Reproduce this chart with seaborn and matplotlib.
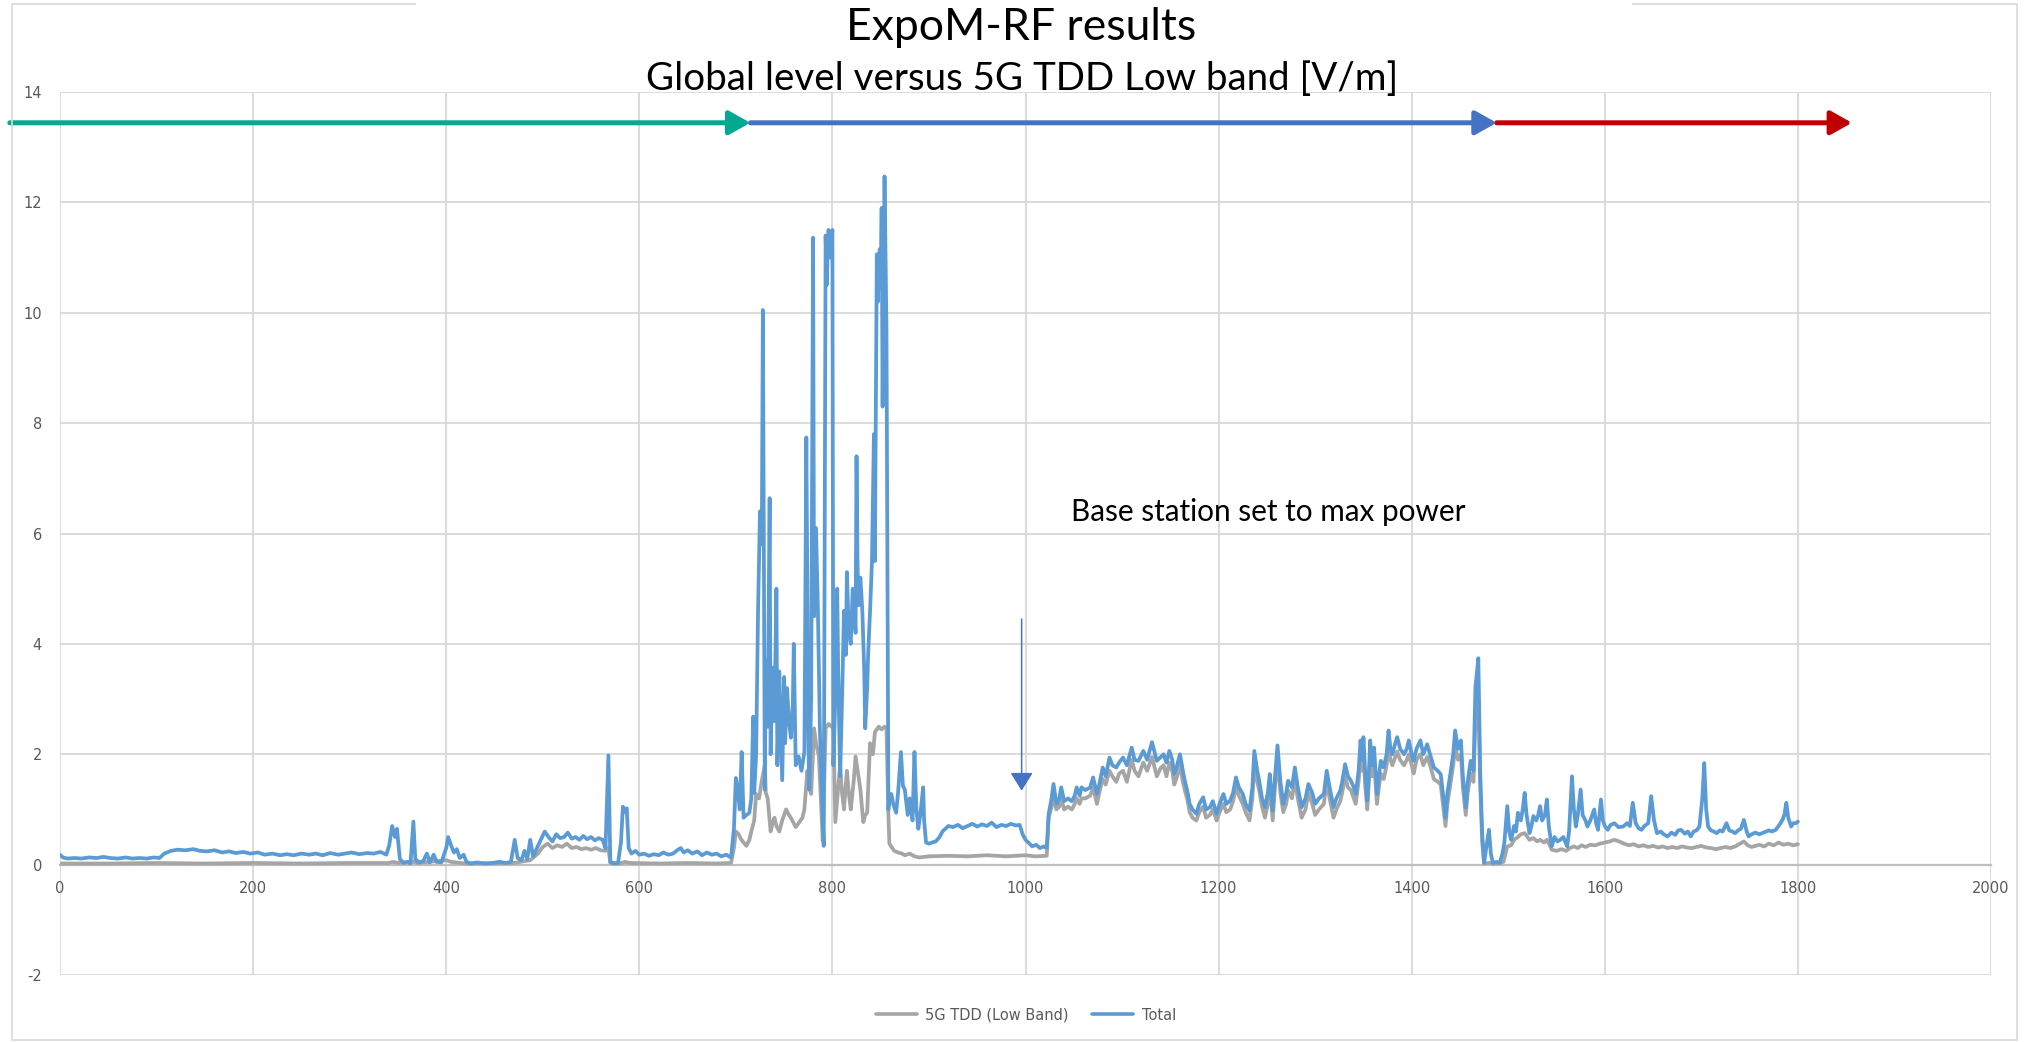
import matplotlib
matplotlib.use("Agg")
import matplotlib.pyplot as plt
from matplotlib.lines import Line2D
from matplotlib.patches import Rectangle
import numpy as np
import pandas as pd
import seaborn as sns

# ---------------------------------------------------------------- data
# 5G TDD (Low Band) field level [V/m] against sample index
tdd_points = [
    (0, 0.02), (50, 0.02), (100, 0.03), (150, 0.02), (200, 0.03), (250, 0.02),
    (300, 0.03), (340, 0.03), (345, 0.05), (350, 0.03), (366, 0.05), (370, 0.03),
    (400, 0.08), (405, 0.05), (420, 0.02), (470, 0.03), (487, 0.08), (495, 0.2),
    (500, 0.32), (505, 0.38), (510, 0.3), (515, 0.35), (520, 0.32), (525, 0.38),
    (530, 0.3), (535, 0.32), (540, 0.28), (545, 0.3), (550, 0.27), (555, 0.3),
    (560, 0.26), (565, 0.25), (568, 0.3), (570, 0.03), (580, 0.02), (585, 0.05),
    (590, 0.03), (620, 0.02), (650, 0.03), (680, 0.02), (695, 0.03),
    (698, 0.3), (700, 0.6), (703, 0.55), (705, 0.47), (708, 0.4), (711, 0.34),
    (714, 0.45), (716, 0.6), (719, 0.8), (721, 1.28), (724, 1.2), (727, 1.53),
    (730, 1.8), (731, 1.3), (733, 1.2), (736, 0.6), (738, 0.75), (740, 0.85),
    (742, 0.7), (745, 0.6), (748, 0.8), (752, 1.0), (755, 0.9), (757, 0.85),
    (760, 0.75), (762, 0.68), (765, 0.75), (769, 0.85), (771, 1.0), (774, 1.7),
    (776, 1.4), (778, 1.28), (781, 2.47), (783, 2.2), (786, 1.96), (788, 1.2),
    (790, 0.43), (793, 2.47), (796, 2.55), (799, 2.5), (801, 2.55), (803, 0.77),
    (806, 1.4), (808, 1.8), (810, 1.3), (812, 1.0), (815, 1.7), (817, 1.3),
    (819, 1.0), (822, 1.5), (824, 1.96), (827, 1.6), (829, 1.36), (832, 0.77),
    (834, 0.9), (836, 0.94), (839, 2.2), (842, 2.0), (844, 2.4), (848, 2.5),
    (851, 2.45), (854, 2.5), (856, 2.47), (858, 0.9), (859, 0.38), (862, 0.3),
    (864, 0.25), (868, 0.22), (872, 0.2), (875, 0.17), (880, 0.2), (885, 0.15),
    (890, 0.13), (895, 0.14), (900, 0.15), (920, 0.16), (940, 0.15), (960, 0.17),
    (980, 0.15), (1000, 0.17), (1010, 0.15), (1022, 0.16),
    (1024, 0.85), (1027, 1.05), (1029, 1.2), (1032, 1.0), (1035, 1.05), (1037, 1.2),
    (1040, 1.0), (1044, 1.05), (1048, 1.0), (1051, 1.1), (1053, 1.2), (1056, 1.1),
    (1058, 1.2), (1062, 1.2), (1067, 1.25), (1070, 1.4), (1074, 1.1), (1077, 1.35),
    (1080, 1.55), (1083, 1.45), (1087, 1.7), (1090, 1.6), (1094, 1.5), (1097, 1.65),
    (1101, 1.7), (1105, 1.5), (1110, 1.9), (1113, 1.7), (1117, 1.6), (1122, 1.85),
    (1126, 1.7), (1131, 1.95), (1136, 1.6), (1140, 1.75), (1143, 1.8), (1146, 1.6),
    (1149, 1.85), (1152, 1.7), (1154, 1.45), (1157, 1.6), (1160, 1.8), (1163, 1.5),
    (1165, 1.35), (1168, 1.15), (1170, 0.95), (1173, 0.85), (1177, 0.8), (1180, 0.95),
    (1184, 1.05), (1187, 0.85), (1191, 0.9), (1194, 1.0), (1198, 0.8), (1201, 0.95),
    (1205, 1.1), (1208, 0.95), (1212, 1.0), (1215, 1.15), (1218, 1.4), (1221, 1.25),
    (1225, 1.1), (1228, 0.95), (1232, 0.8), (1235, 1.2), (1237, 1.85), (1240, 1.5),
    (1242, 1.35), (1245, 1.05), (1248, 0.85), (1251, 1.1), (1253, 1.45), (1256, 0.8),
    (1258, 1.3), (1261, 1.95), (1264, 1.3), (1267, 0.95), (1270, 1.1), (1272, 1.35),
    (1276, 1.2), (1279, 1.55), (1282, 1.2), (1286, 0.85), (1290, 1.0), (1293, 1.3),
    (1297, 1.1), (1300, 0.9), (1304, 1.0), (1309, 1.1), (1312, 1.5), (1315, 1.2),
    (1319, 0.85), (1322, 1.0), (1326, 1.15), (1328, 1.3), (1331, 1.6), (1334, 1.4),
    (1337, 1.35), (1340, 1.2), (1342, 1.1), (1345, 1.5), (1347, 2.0), (1349, 1.7),
    (1350, 2.05), (1352, 1.4), (1354, 1.0), (1356, 1.6), (1357, 2.0), (1359, 1.6),
    (1361, 1.9), (1364, 1.1), (1366, 1.4), (1368, 1.65), (1371, 1.55), (1374, 1.8),
    (1376, 2.15), (1378, 1.9), (1380, 1.8), (1383, 1.95), (1385, 2.05), (1388, 1.9),
    (1392, 1.8), (1395, 1.9), (1397, 2.0), (1400, 1.8), (1402, 1.65), (1405, 1.9),
    (1409, 2.0), (1412, 1.8), (1416, 1.95), (1419, 1.8), (1423, 1.55), (1427, 1.5),
    (1430, 1.45), (1433, 1.0), (1435, 0.7), (1437, 1.1), (1440, 1.45), (1443, 1.8),
    (1445, 2.15), (1448, 1.9), (1451, 2.0), (1453, 1.4), (1456, 0.9), (1458, 1.3),
    (1461, 1.65), (1464, 1.5), (1466, 2.6), (1469, 3.0), (1471, 1.4), (1473, 0.4),
    (1475, 0.02), (1480, 0.03), (1485, 0.02), (1490, 0.02), (1495, 0.05),
    (1499, 0.33), (1503, 0.35), (1506, 0.45), (1510, 0.5), (1513, 0.55), (1517, 0.57),
    (1520, 0.5), (1522, 0.45), (1526, 0.48), (1530, 0.42), (1533, 0.45), (1537, 0.4),
    (1540, 0.45), (1543, 0.35), (1545, 0.27), (1550, 0.25), (1555, 0.28), (1560, 0.25),
    (1564, 0.3), (1568, 0.33), (1572, 0.3), (1576, 0.35), (1580, 0.32), (1585, 0.36),
    (1590, 0.35), (1595, 0.38), (1600, 0.4), (1605, 0.42), (1610, 0.45), (1615, 0.42),
    (1620, 0.38), (1625, 0.35), (1630, 0.37), (1635, 0.33), (1640, 0.35), (1645, 0.32),
    (1650, 0.34), (1655, 0.31), (1660, 0.33), (1665, 0.3), (1670, 0.32), (1675, 0.3),
    (1680, 0.33), (1685, 0.31), (1690, 0.3), (1695, 0.32), (1700, 0.34), (1705, 0.31),
    (1710, 0.3), (1715, 0.28), (1720, 0.3), (1725, 0.32), (1730, 0.3), (1735, 0.33),
    (1740, 0.38), (1744, 0.42), (1748, 0.35), (1752, 0.32), (1756, 0.34), (1760, 0.36),
    (1765, 0.33), (1770, 0.38), (1775, 0.35), (1780, 0.4), (1785, 0.36), (1790, 0.38),
    (1795, 0.35), (1800, 0.37),
]

# Total (global) field level [V/m] against sample index
total_points = [
    (0, 0.18), (3, 0.13), (8, 0.11), (15, 0.12), (22, 0.11), (30, 0.13), (38, 0.12),
    (45, 0.14), (52, 0.12), (60, 0.11), (68, 0.13), (75, 0.11), (82, 0.12), (90, 0.11),
    (97, 0.13), (103, 0.12), (108, 0.2), (115, 0.25), (122, 0.27), (130, 0.26),
    (138, 0.28), (145, 0.25), (152, 0.24), (160, 0.26), (168, 0.22), (175, 0.24),
    (182, 0.21), (190, 0.23), (197, 0.2), (205, 0.22), (212, 0.18), (220, 0.2),
    (228, 0.17), (235, 0.19), (242, 0.17), (250, 0.2), (258, 0.18), (265, 0.2),
    (272, 0.17), (280, 0.21), (288, 0.18), (295, 0.2), (302, 0.22), (310, 0.19),
    (318, 0.21), (325, 0.2), (332, 0.23), (338, 0.18),
    (341, 0.35), (344, 0.7), (347, 0.5), (349, 0.65), (352, 0.1), (356, 0.03),
    (360, 0.05), (363, 0.02), (366, 0.78), (368, 0.1), (372, 0.04), (376, 0.06),
    (380, 0.2), (383, 0.04), (387, 0.18), (390, 0.05), (395, 0.04), (400, 0.3),
    (402, 0.5), (405, 0.35), (408, 0.22), (411, 0.28), (414, 0.12), (418, 0.18),
    (421, 0.05), (425, 0.02), (432, 0.04), (440, 0.02), (448, 0.03), (455, 0.05),
    (462, 0.03), (467, 0.05), (471, 0.45), (474, 0.12), (478, 0.08), (481, 0.25),
    (484, 0.1), (487, 0.45), (490, 0.15), (494, 0.3), (498, 0.45), (502, 0.6),
    (506, 0.5), (510, 0.42), (514, 0.55), (518, 0.48), (522, 0.5), (526, 0.58),
    (530, 0.47), (534, 0.5), (538, 0.45), (542, 0.52), (546, 0.46), (550, 0.5),
    (554, 0.44), (558, 0.48), (562, 0.45), (565, 0.3), (568, 1.98), (570, 0.05),
    (574, 0.02), (578, 0.03), (581, 0.4), (583, 1.05), (585, 0.95), (587, 1.02),
    (589, 0.3), (592, 0.2), (596, 0.25), (600, 0.18), (605, 0.2), (610, 0.16),
    (615, 0.19), (620, 0.17), (625, 0.22), (630, 0.18), (635, 0.2), (640, 0.27),
    (643, 0.3), (646, 0.22), (650, 0.26), (655, 0.2), (660, 0.24), (665, 0.17),
    (670, 0.22), (675, 0.18), (680, 0.2), (685, 0.15), (690, 0.18), (695, 0.13),
    (698, 0.64), (700, 1.57), (702, 1.36), (704, 1.0), (706, 2.04), (708, 0.85),
    (711, 0.9), (714, 0.94), (716, 1.2), (718, 2.68), (719, 1.3), (721, 2.0),
    (723, 4.6), (725, 6.4), (726, 5.8), (727, 6.3), (728, 10.05), (730, 1.36),
    (731, 3.7), (733, 2.5), (735, 6.64), (736, 2.0), (738, 3.57), (740, 2.6),
    (742, 5.0), (743, 1.8), (745, 3.5), (748, 1.53), (750, 3.4), (751, 2.2),
    (753, 3.2), (755, 2.6), (757, 2.3), (759, 2.9), (760, 4.0), (762, 1.8),
    (765, 1.96), (768, 1.7), (771, 2.04), (773, 7.74), (775, 2.5), (776, 1.36),
    (778, 3.0), (780, 11.36), (781, 4.5), (783, 6.1), (785, 4.6), (787, 2.5),
    (788, 1.87), (791, 0.34), (793, 11.4), (794, 10.5), (796, 11.5), (798, 11.0),
    (800, 11.5), (801, 1.8), (803, 3.0), (805, 5.0), (806, 3.5), (808, 1.6),
    (810, 3.0), (812, 4.6), (814, 3.8), (815, 5.3), (817, 4.2), (819, 4.0),
    (821, 5.0), (822, 4.9), (824, 4.2), (825, 7.4), (826, 5.5), (827, 4.7),
    (829, 5.2), (831, 4.6), (833, 3.5), (834, 2.47), (836, 3.2), (837, 3.8),
    (839, 4.6), (841, 5.5), (843, 7.8), (844, 5.5), (846, 11.06), (847, 10.2),
    (849, 11.15), (850, 10.5), (851, 11.9), (852, 8.3), (854, 12.47), (856, 9.7),
    (858, 1.0), (859, 1.2), (861, 1.28), (863, 1.1), (866, 0.94), (868, 1.3),
    (871, 2.04), (873, 1.43), (875, 1.36), (878, 0.9), (880, 1.2), (883, 0.8),
    (885, 2.04), (887, 1.0), (889, 0.65), (891, 0.9), (894, 1.4), (895, 0.8),
    (897, 0.4), (900, 0.38), (903, 0.4), (907, 0.42), (911, 0.5), (914, 0.6),
    (917, 0.65), (920, 0.7), (925, 0.68), (930, 0.72), (935, 0.66), (940, 0.7),
    (945, 0.74), (950, 0.69), (955, 0.73), (960, 0.7), (965, 0.76), (970, 0.68),
    (975, 0.72), (980, 0.7), (985, 0.74), (990, 0.71), (994, 0.72), (997, 0.55),
    (1000, 0.45), (1003, 0.4), (1007, 0.33), (1011, 0.36), (1015, 0.3), (1019, 0.33),
    (1022, 0.3), (1024, 0.92), (1027, 1.2), (1029, 1.46), (1032, 1.1), (1035, 1.2),
    (1037, 1.4), (1040, 1.15), (1044, 1.2), (1048, 1.15), (1051, 1.25), (1053, 1.4),
    (1056, 1.25), (1058, 1.4), (1062, 1.35), (1067, 1.4), (1070, 1.58), (1074, 1.28),
    (1077, 1.5), (1080, 1.76), (1083, 1.6), (1087, 1.94), (1090, 1.8), (1094, 1.76),
    (1097, 1.85), (1101, 1.94), (1105, 1.8), (1110, 2.12), (1113, 1.9), (1117, 1.88),
    (1122, 2.06), (1126, 1.9), (1131, 2.22), (1136, 1.88), (1140, 1.95), (1143, 2.0),
    (1146, 1.85), (1149, 2.06), (1152, 1.9), (1154, 1.64), (1157, 1.8), (1160, 2.0),
    (1163, 1.7), (1165, 1.52), (1168, 1.3), (1170, 1.1), (1173, 1.0), (1177, 0.92),
    (1180, 1.1), (1184, 1.22), (1187, 1.0), (1191, 1.04), (1194, 1.15), (1198, 0.92),
    (1201, 1.1), (1205, 1.28), (1208, 1.1), (1212, 1.16), (1215, 1.3), (1218, 1.58),
    (1221, 1.4), (1225, 1.28), (1228, 1.1), (1232, 0.98), (1235, 1.4), (1237, 2.06),
    (1240, 1.7), (1242, 1.52), (1245, 1.2), (1248, 1.04), (1251, 1.3), (1253, 1.64),
    (1256, 0.98), (1258, 1.5), (1261, 2.16), (1264, 1.5), (1267, 1.1), (1270, 1.3),
    (1272, 1.52), (1276, 1.4), (1279, 1.76), (1282, 1.4), (1286, 1.04), (1290, 1.2),
    (1293, 1.46), (1297, 1.3), (1300, 1.1), (1304, 1.2), (1309, 1.28), (1312, 1.7),
    (1315, 1.4), (1319, 1.04), (1322, 1.2), (1326, 1.34), (1328, 1.5), (1331, 1.82),
    (1334, 1.6), (1337, 1.52), (1340, 1.4), (1342, 1.28), (1345, 1.7), (1347, 2.25),
    (1349, 1.9), (1350, 2.31), (1352, 1.6), (1354, 1.16), (1356, 1.8), (1357, 2.25),
    (1359, 1.8), (1361, 2.12), (1364, 1.28), (1366, 1.6), (1368, 1.88), (1371, 1.76),
    (1374, 2.0), (1376, 2.43), (1378, 2.1), (1380, 2.0), (1383, 2.2), (1385, 2.31),
    (1388, 2.1), (1392, 2.0), (1395, 2.1), (1397, 2.25), (1400, 2.0), (1402, 1.88),
    (1405, 2.1), (1409, 2.25), (1412, 2.0), (1416, 2.18), (1419, 2.0), (1423, 1.76),
    (1427, 1.7), (1430, 1.64), (1433, 1.2), (1435, 0.85), (1437, 1.3), (1440, 1.64),
    (1443, 2.0), (1445, 2.43), (1448, 2.1), (1451, 2.25), (1453, 1.6), (1456, 1.04),
    (1458, 1.5), (1461, 1.88), (1464, 1.7), (1466, 3.21), (1469, 3.74), (1471, 1.64),
    (1473, 0.57), (1475, 0.03), (1478, 0.4), (1480, 0.63), (1482, 0.2), (1484, 0.03),
    (1488, 0.05), (1491, 0.03), (1494, 0.2), (1496, 0.4), (1499, 1.06), (1501, 0.6),
    (1503, 0.45), (1506, 0.7), (1508, 0.6), (1510, 0.94), (1513, 0.8), (1515, 1.0),
    (1517, 1.3), (1519, 0.9), (1522, 0.57), (1524, 0.7), (1526, 0.88), (1529, 0.8),
    (1531, 0.9), (1533, 1.06), (1535, 0.8), (1538, 0.9), (1540, 1.18), (1542, 0.7),
    (1545, 0.33), (1548, 0.5), (1551, 0.42), (1554, 0.45), (1557, 0.5), (1561, 0.33),
    (1563, 0.6), (1566, 1.6), (1568, 1.0), (1570, 0.69), (1572, 0.9), (1575, 1.36),
    (1577, 0.9), (1580, 0.8), (1582, 0.69), (1585, 0.8), (1587, 0.9), (1589, 1.0),
    (1591, 0.75), (1593, 0.63), (1596, 1.18), (1598, 0.8), (1600, 0.7), (1603, 0.63),
    (1606, 0.72), (1610, 0.75), (1614, 0.68), (1619, 0.69), (1623, 0.75), (1626, 0.7),
    (1629, 1.12), (1632, 0.75), (1635, 0.66), (1638, 0.63), (1641, 0.7), (1645, 0.75),
    (1648, 1.24), (1651, 0.8), (1654, 0.57), (1658, 0.6), (1661, 0.55), (1665, 0.51),
    (1669, 0.58), (1673, 0.54), (1676, 0.62), (1679, 0.63), (1683, 0.56), (1686, 0.6),
    (1689, 0.51), (1692, 0.6), (1695, 0.62), (1698, 0.69), (1701, 1.2), (1703, 1.84),
    (1705, 1.0), (1707, 0.69), (1710, 0.62), (1713, 0.6), (1716, 0.57), (1719, 0.62),
    (1722, 0.6), (1726, 0.75), (1729, 0.62), (1732, 0.6), (1735, 0.57), (1738, 0.62),
    (1741, 0.65), (1744, 0.81), (1747, 0.6), (1749, 0.51), (1752, 0.55), (1756, 0.58),
    (1760, 0.55), (1763, 0.57), (1767, 0.6), (1770, 0.62), (1773, 0.6), (1777, 0.63),
    (1780, 0.7), (1784, 0.81), (1786, 0.9), (1788, 1.12), (1790, 0.85), (1793, 0.69),
    (1795, 0.75), (1798, 0.75), (1800, 0.78),
]

series_names = ["5G TDD (Low Band)", "Total"]
series_colors = ["#A5A5A5", "#5B9BD5"]

x_ticks = [0, 200, 400, 600, 800, 1000, 1200, 1400, 1600, 1800, 2000]
y_ticks = [-2, 0, 2, 4, 6, 8, 10, 12, 14]

title_lines = ["ExpoM-RF results", "Global level versus 5G TDD Low band [V/m]"]
note_text = "Base station set to max power"

# phase arrows along the top: (start sample, end sample, colour)
phase_arrows = [(-52, 715, "#00A98F"), (715, 1488, "#4472C4"), (1488, 1856, "#C00000")]

# ---------------------------------------------------------------- frame
frames = []
for name, pts in zip(series_names, [tdd_points, total_points]):
    d = pd.DataFrame(pts, columns=["sample", "level"])
    d["series"] = name
    frames.append(d)
df = pd.concat(frames, ignore_index=True)

sns.set_theme(style="white")
plt.rcParams["font.family"] = ["DejaVu Sans"]

W, H = 2038, 1042
fig = plt.figure(figsize=(W / 100, H / 100), dpi=100)
fig.patch.set_facecolor("white")

# plot area in pixel terms
L, R, T, B = 60, 1991, 92, 975
ax = fig.add_axes([L / W, 1 - B / H, (R - L) / W, (B - T) / H])

sns.lineplot(data=df, x="sample", y="level", hue="series",
             hue_order=series_names, palette=series_colors,
             estimator=None, sort=False, linewidth=2.7, ax=ax,
             legend=False, zorder=3)

ax.set_xlim(0, 2000)
ax.set_ylim(-2, 14)
ax.set_xticks(x_ticks)
ax.set_yticks(y_ticks)
ax.set_xlabel("")
ax.set_ylabel("")
ax.grid(True, color="#D9D9D9", linewidth=1.3, zorder=0)
for side in ["top", "right", "left"]:
    ax.spines[side].set_visible(False)
ax.spines["bottom"].set_position(("data", 0))
ax.spines["bottom"].set_color("#BFBFBF")
ax.spines["bottom"].set_linewidth(1.6)
ax.spines["bottom"].set_zorder(2)
ax.tick_params(axis="both", length=0, labelsize=10.5, labelcolor="#595959")
ax.tick_params(axis="x", pad=12)
ax.tick_params(axis="y", pad=13)
ax.set_yticklabels([str(v) for v in y_ticks])

# outer chart border, interrupted at the top by the white title box
fig.add_artist(Rectangle((12 / W, 2 / H), (2017 - 12) / W, (1038 - 2) / H,
                         transform=fig.transFigure, fill=False,
                         edgecolor="#D9D9D9", linewidth=1.2, zorder=1))
fig.add_artist(Rectangle((416 / W, 1 - 60 / H), (1632 - 416) / W, 60 / H,
                         transform=fig.transFigure, facecolor="white",
                         edgecolor="none", zorder=2))

# legend
handles = [Line2D([0], [0], color=c, lw=2.6) for c in series_colors]
fig.legend(handles, series_names, loc="center", ncol=2, frameon=False,
           bbox_to_anchor=(1026 / W, 1 - 1015 / H), fontsize=10.5,
           labelcolor="#595959", handlelength=2.8, handletextpad=0.6,
           columnspacing=1.6)

# title and annotation in a humanist face
fig.canvas.draw()
renderer = fig.canvas.get_renderer()


def fitted_text(x, y, s, target_w, size0, **kw):
    t = fig.text(x / W, 1 - y / H, s, ha="center", va="center",
                 fontsize=size0, family="Lato", color="black", zorder=6, **kw)
    w = t.get_window_extent(renderer).width
    t.set_fontsize(size0 * target_w / w)
    return t


fitted_text(1021, 27, title_lines[0], 349, 30)
fitted_text(1022, 79, title_lines[1], 750, 30)
fitted_text(1268, 512, note_text, 393, 18)

# phase arrows
arrow_y = (864 - 122) / 55.2
for x0, x1, c in phase_arrows:
    ax.annotate("", xy=(x1, arrow_y), xytext=(x0, arrow_y),
                xycoords="data", annotation_clip=False,
                arrowprops=dict(arrowstyle="-|>,head_length=0.8,head_width=0.45",
                                mutation_scale=16, lw=3.6, color=c,
                                shrinkA=0, shrinkB=0), zorder=5)

# base-station marker arrow
ax.annotate("", xy=(996, 1.34), xytext=(996, 4.45), xycoords="data",
            arrowprops=dict(arrowstyle="-|>,head_length=0.8,head_width=0.5",
                            mutation_scale=14, lw=1.1, color="#4472C4",
                            shrinkA=0, shrinkB=0), zorder=5)

fig.savefig("out.png", dpi=100, facecolor="white")
